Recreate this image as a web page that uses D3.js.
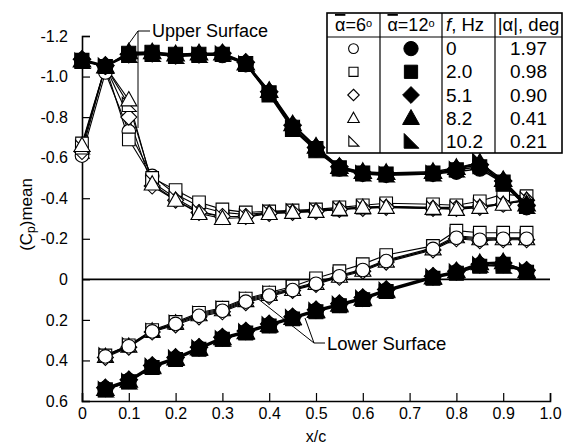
<!DOCTYPE html>
<html>
<head>
<meta charset="utf-8">
<script src="https://cdn.jsdelivr.net/npm/d3@7"></script>
<style>
  html, body { margin:0; padding:0; background:#fff; }
  svg { display:block; font-family:'Liberation Sans', Arial, Helvetica, sans-serif; }
</style>
</head>
<body>
<svg id="chart" width="582" height="445"></svg>
<script>
/* ---------- Data ---------- */
const xUpper = [0, 0.05, 0.1, 0.15, 0.2, 0.25, 0.3, 0.35, 0.4, 0.45, 0.5, 0.55, 0.6, 0.65, 0.75, 0.8, 0.85, 0.9, 0.95];
const xLower = [0.05, 0.1, 0.15, 0.2, 0.25, 0.3, 0.35, 0.4, 0.45, 0.5, 0.55, 0.6, 0.65, 0.75, 0.8, 0.85, 0.9, 0.95];

const frequencies = ['0', '2.0', '5.1', '8.2', '10.2'];
const amplitudes  = ['1.97', '0.98', '0.90', '0.41', '0.21'];
const shapes      = ['circle', 'square', 'diamond', 'triangle', 'wedge'];

// mean alpha = 6 deg (open symbols), one row per frequency
const upper6 = [
  [-0.61, -1.02, -0.73, -0.51, -0.42, -0.36, -0.33, -0.32, -0.33, -0.335, -0.34, -0.35, -0.355, -0.36, -0.355, -0.355, -0.36, -0.37, -0.39],
  [-0.67, -1.05, -0.69, -0.50, -0.44, -0.38, -0.345, -0.33, -0.335, -0.34, -0.345, -0.355, -0.365, -0.375, -0.37, -0.365, -0.385, -0.42, -0.41],
  [-0.63, -1.05, -0.80, -0.46, -0.39, -0.33, -0.31, -0.31, -0.325, -0.33, -0.335, -0.345, -0.35, -0.355, -0.35, -0.35, -0.355, -0.37, -0.39],
  [-0.66, -1.05, -0.885, -0.47, -0.39, -0.325, -0.30, -0.305, -0.325, -0.33, -0.335, -0.345, -0.355, -0.355, -0.35, -0.345, -0.355, -0.37, -0.39],
  [-0.65, -1.05, -0.86, -0.48, -0.40, -0.335, -0.31, -0.31, -0.33, -0.335, -0.34, -0.345, -0.355, -0.36, -0.35, -0.35, -0.36, -0.375, -0.395]
];
const lower6 = [
  [0.38, 0.33, 0.257, 0.22, 0.18, 0.155, 0.11, 0.08, 0.053, 0.022, -0.015, -0.046, -0.09, -0.15, -0.205, -0.195, -0.2, -0.2],
  [0.375, 0.325, 0.25, 0.21, 0.165, 0.14, 0.095, 0.065, 0.035, -0.005, -0.04, -0.075, -0.12, -0.165, -0.24, -0.23, -0.23, -0.23],
  [0.385, 0.335, 0.26, 0.225, 0.185, 0.16, 0.115, 0.085, 0.055, 0.025, -0.01, -0.04, -0.085, -0.145, -0.2, -0.19, -0.195, -0.195],
  [0.38, 0.33, 0.255, 0.215, 0.175, 0.15, 0.105, 0.075, 0.05, 0.02, -0.015, -0.045, -0.09, -0.15, -0.21, -0.2, -0.2, -0.2],
  [0.375, 0.325, 0.255, 0.215, 0.17, 0.145, 0.1, 0.07, 0.045, 0.015, -0.02, -0.05, -0.095, -0.155, -0.215, -0.205, -0.205, -0.205]
];

// mean alpha = 12 deg (filled symbols)
const upper12 = [
  [-1.08, -1.05, -1.11, -1.115, -1.10, -1.105, -1.105, -1.06, -0.915, -0.745, -0.64, -0.545, -0.52, -0.515, -0.52, -0.53, -0.545, -0.475, -0.355],
  [-1.08, -1.05, -1.115, -1.12, -1.11, -1.11, -1.11, -1.065, -0.92, -0.75, -0.645, -0.55, -0.525, -0.52, -0.525, -0.54, -0.555, -0.48, -0.36],
  [-1.085, -1.055, -1.11, -1.115, -1.105, -1.11, -1.115, -1.07, -0.925, -0.76, -0.65, -0.555, -0.525, -0.52, -0.525, -0.545, -0.565, -0.485, -0.365],
  [-1.08, -1.05, -1.12, -1.12, -1.11, -1.115, -1.115, -1.065, -0.93, -0.765, -0.655, -0.555, -0.53, -0.525, -0.53, -0.55, -0.575, -0.49, -0.37],
  [-1.075, -1.05, -1.105, -1.11, -1.10, -1.105, -1.11, -1.06, -0.91, -0.74, -0.635, -0.545, -0.52, -0.515, -0.52, -0.54, -0.58, -0.47, -0.36]
];
const lower12 = [
  [0.54, 0.50, 0.43, 0.39, 0.34, 0.29, 0.26, 0.225, 0.19, 0.155, 0.125, 0.095, 0.055, -0.01, -0.035, -0.07, -0.07, -0.04],
  [0.545, 0.505, 0.435, 0.395, 0.345, 0.295, 0.265, 0.23, 0.195, 0.16, 0.13, 0.1, 0.06, -0.005, -0.03, -0.065, -0.075, -0.035],
  [0.535, 0.495, 0.425, 0.385, 0.335, 0.285, 0.255, 0.22, 0.185, 0.15, 0.12, 0.09, 0.05, -0.015, -0.04, -0.075, -0.08, -0.045],
  [0.54, 0.50, 0.43, 0.39, 0.34, 0.29, 0.26, 0.225, 0.19, 0.155, 0.125, 0.095, 0.055, -0.01, -0.04, -0.08, -0.085, -0.04],
  [0.545, 0.505, 0.43, 0.39, 0.34, 0.295, 0.26, 0.225, 0.19, 0.155, 0.125, 0.095, 0.055, -0.01, -0.035, -0.07, -0.065, -0.04]
];

const xTicks = [0, 0.1, 0.2, 0.3, 0.4, 0.5, 0.6, 0.7, 0.8, 0.9, 1.0];
const yTicks = [-1.2, -1.0, -0.8, -0.6, -0.4, -0.2, 0, 0.2, 0.4, 0.6];

/* ---------- Setup ---------- */
const svg = d3.select('#chart');
const x = d3.scaleLinear().domain([0, 1]).range([82, 550]);
const y = d3.scaleLinear().domain([-1.2, 0.6]).range([36, 401]);

const fmt = v => (v === 0 ? '0' : d3.format('.1f')(v).replace('−', '-'));

// axes (ticks point inward)
const xAxis = d3.axisBottom(x).tickValues(xTicks).tickSize(-8).tickPadding(15).tickFormat(fmt);
const yAxis = d3.axisLeft(y).tickValues(yTicks).tickSize(-8).tickPadding(14).tickFormat(fmt);

const gx = svg.append('g').attr('transform', `translate(0,${y(0.6)})`).call(xAxis);
const gy = svg.append('g').attr('transform', `translate(${x(0)},0)`).call(yAxis);
[gx, gy].forEach(g => {
  g.select('.domain').attr('stroke', '#000').attr('stroke-width', 1.6);
  g.selectAll('.tick line').attr('stroke', '#000').attr('stroke-width', 1.2);
  g.selectAll('.tick text').attr('fill', '#000').style('font-size', '16px')
    .style('font-family', "'Liberation Sans', Arial, sans-serif");
});
gx.selectAll('.tick text').attr('dy', '0.2em');

// zero line
svg.append('line')
  .attr('x1', x(0)).attr('x2', x(1)).attr('y1', y(0)).attr('y2', y(0))
  .attr('stroke', '#000').attr('stroke-width', 1.6);

// axis titles
svg.append('text').attr('x', x(0.5)).attr('y', 442).attr('text-anchor', 'middle')
  .style('font-size', '16px').text('x/c');

const yt = svg.append('text').attr('transform', `translate(32,${y(-0.32)}) rotate(-90)`)
  .attr('text-anchor', 'middle').style('font-size', '17px');
yt.append('tspan').text('(C');
yt.append('tspan').attr('baseline-shift', '-25%').style('font-size', '12px').text('p');
yt.append('tspan').text(')mean');

/* ---------- Markers ---------- */
function shapePath(kind, k) {
  const s = k || 1;
  switch (kind) {
    case 'circle': {
      const r = 6.8 * s;
      return `M${-r},0A${r},${r} 0 1,0 ${r},0A${r},${r} 0 1,0 ${-r},0Z`;
    }
    case 'square': { const h = 6.3 * s; return `M${-h},${-h}H${h}V${h}H${-h}Z`; }
    case 'diamond': { const h = 8 * s; return `M0,${-h}L${h},0L0,${h}L${-h},0Z`; }
    case 'triangle': return `M0,${-8.3 * s}L${8 * s},${6 * s}L${-8 * s},${6 * s}Z`;
    case 'wedge': return `M${-6.5 * s},${-7.5 * s}L${-6.5 * s},${6.5 * s}L${7.5 * s},${6.5 * s}Z`;
  }
}

const line = d3.line().x(d => x(d[0])).y(d => y(d[1]));
const plot = svg.append('g');

// order = series indices, last one drawn on top
function drawSeries(xs, sets, filled, order) {
  sets.forEach(vals => {
    const pts = xs.map((xv, j) => [xv, vals[j]]);
    plot.append('path').attr('d', line(pts))
      .attr('fill', 'none').attr('stroke', '#000').attr('stroke-width', filled ? 1.5 : 1.1);
  });
  order.forEach(i => {
    plot.append('g').selectAll('path').data(xs.map((xv, j) => [xv, sets[i][j]])).join('path')
      .attr('transform', d => `translate(${x(d[0])},${y(d[1])})`)
      .attr('d', shapePath(shapes[i], filled ? 1.1 : 1))
      .attr('fill', filled ? '#000' : '#fff')
      .attr('stroke', '#000').attr('stroke-width', 1.1);
  });
}

drawSeries(xLower, lower6, false, [4, 3, 2, 1, 0]);
drawSeries(xUpper, upper6, false, [0, 1, 2, 4, 3]);
drawSeries(xLower, lower12, true, [4, 3, 2, 1, 0]);
drawSeries(xUpper, upper12, true, [4, 3, 2, 1, 0]);

/* ---------- Annotations ---------- */
const ann = svg.append('g').attr('stroke', '#000').attr('stroke-width', 1).attr('fill', 'none');
ann.append('path').attr('d', 'M150,31H138L125,49M138,31V128');
ann.append('path').attr('d', 'M325,343H314L257,298M314,343L305,318');
svg.append('text').attr('x', 152).attr('y', 37).style('font-size', '18px').text('Upper Surface');
svg.append('text').attr('x', 327).attr('y', 350).style('font-size', '18.5px').text('Lower Surface');

/* ---------- Legend table ---------- */
const lg = svg.append('g');
const L = { x0: 327, x1: 562, y0: 13, yh: 37, y1: 153 };
const cols = [327, 380, 442, 495, 562];
const rowH = (L.y1 - L.yh) / frequencies.length;

lg.append('rect').attr('x', L.x0).attr('y', L.y0).attr('width', L.x1 - L.x0).attr('height', L.y1 - L.y0)
  .attr('fill', '#fff').attr('stroke', '#000').attr('stroke-width', 1.6);
lg.append('line').attr('x1', L.x0).attr('x2', L.x1).attr('y1', L.yh).attr('y2', L.yh)
  .attr('stroke', '#000').attr('stroke-width', 1.2);
cols.slice(1, -1).forEach(cx => lg.append('line').attr('x1', cx).attr('x2', cx)
  .attr('y1', L.y0).attr('y2', L.y1).attr('stroke', '#000').attr('stroke-width', 1.2));

function alphaHeader(cx, deg) {
  const t = lg.append('text').attr('x', cx).attr('y', 31).attr('text-anchor', 'middle').style('font-size', '18px');
  t.append('tspan').style('text-decoration', 'overline').text('α');
  t.append('tspan').text('=' + deg);
  t.append('tspan').attr('baseline-shift', '40%').style('font-size', '11px').text('o');
}
alphaHeader((cols[0] + cols[1]) / 2, '6');
alphaHeader((cols[1] + cols[2]) / 2, '12');
const fh = lg.append('text').attr('x', 446).attr('y', 31).style('font-size', '18.5px');
fh.append('tspan').style('font-style', 'italic').text('f');
fh.append('tspan').text(', Hz');
lg.append('text').attr('x', (cols[3] + cols[4]) / 2).attr('y', 31).attr('text-anchor', 'middle')
  .style('font-size', '18.5px').text('|α|, deg');

frequencies.forEach((f, i) => {
  const cy = L.yh + rowH * (i + 0.5);
  lg.append('path').attr('transform', `translate(${(cols[0] + cols[1]) / 2},${cy})`)
    .attr('d', shapePath(shapes[i], 0.72)).attr('fill', '#fff').attr('stroke', '#000').attr('stroke-width', 1.1);
  lg.append('path').attr('transform', `translate(${(cols[1] + cols[2]) / 2},${cy})`)
    .attr('d', shapePath(shapes[i], 1.05)).attr('fill', '#000').attr('stroke', '#000');
  lg.append('text').attr('x', 446).attr('y', cy + 6.5).style('font-size', '19px').text(f);
  lg.append('text').attr('x', (cols[3] + cols[4]) / 2).attr('y', cy + 6.5).attr('text-anchor', 'middle')
    .style('font-size', '19px').text(amplitudes[i]);
});
</script>
</body>
</html>
